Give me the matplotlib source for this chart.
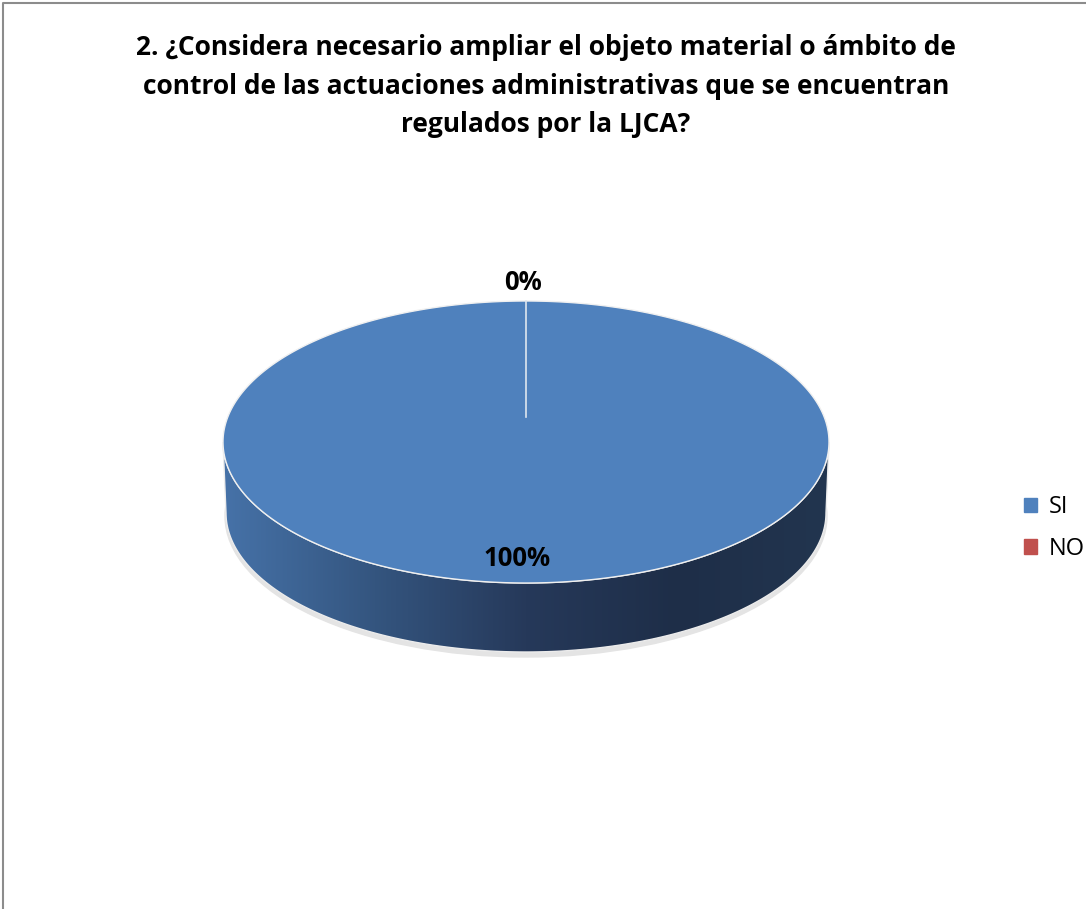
import numpy as np
import matplotlib.pyplot as plt
import matplotlib.patches as mpatches
from matplotlib.colors import LinearSegmentedColormap

# data
labels = ['SI', 'NO']
values = [100, 0]
colors = ['#4F81BD', '#C0504D']
title = ('2. ¿Considera necesario ampliar el objeto material o ámbito de\n'
         'control de las actuaciones administrativas que se encuentran\n'
         'regulados por la LJCA?')

plt.rcParams['font.family'] = ['Open Sans', 'DejaVu Sans']

W, H = 1086, 909
fig = plt.figure(figsize=(W / 100, H / 100), dpi=100)
ax = fig.add_axes([0, 0, 1, 1])
ax.set_xlim(0, W)
ax.set_ylim(H, 0)
ax.set_axis_off()

# frame of the chart area
ax.plot([3, 3, W], [H, 3, 3], color='#8c8c8c', lw=1.5)

ax.text(546, 86, title, ha='center', va='center', fontsize=19,
        fontweight='bold', linespacing=1.55)

# pie geometry (pixels)
cx, cy, rx, ry, depth = 526, 442, 303, 141, 71

t = np.linspace(0, np.pi, 200)
top_front = np.column_stack([cx - rx * np.cos(t), cy + ry * np.sin(t)])
bot_front = np.column_stack([cx - (rx - 3) * np.cos(t[::-1]), cy + depth + (ry - 2) * np.sin(t[::-1])])

# faint shadow under the pie
shadow = mpatches.Ellipse((cx, cy + depth + 3), 2 * rx - 4, 2 * ry, color='#e4e4e4', zorder=1)
ax.add_patch(shadow)

side = np.vstack([top_front, bot_front])
ax.add_patch(mpatches.Polygon(side, closed=True, facecolor='none', edgecolor='#ececec', lw=1.0, zorder=3))
grad = np.linspace(0, 1, 256)[None, :]
cmap = LinearSegmentedColormap.from_list('side', ['#4672a8', '#34557f', '#26395a', '#1e2e48', '#22354f'])
im = ax.imshow(grad, cmap=cmap, extent=[cx - rx, cx + rx, cy + depth + ry, cy - 5],
               aspect='auto', zorder=2)
im.set_clip_path(mpatches.Polygon(side, closed=True, transform=ax.transData))
ax.set_xlim(0, W)
ax.set_ylim(H, 0)

# top face slices, clockwise from 12 o'clock
fracs = np.array(values, dtype=float) / sum(values)
start = 90.0
for frac, col in zip(fracs, colors):
    if frac <= 0:
        continue
    a = np.radians(np.linspace(start, start - 360 * frac, 400))
    pts = np.column_stack([cx + rx * np.cos(a), cy - ry * np.sin(a)])
    if frac < 1:
        pts = np.vstack([[cx, cy], pts])
    ax.add_patch(mpatches.Polygon(pts, closed=True, facecolor=col, edgecolor='#f0f0f0', lw=1.0, zorder=4))
    start -= 360 * frac

# separator line at slice boundary
ax.plot([cx, cx], [cy - ry, cy - 25], color='#dfe6ef', lw=1.2, zorder=5)

# data labels
ax.text(cx - 3, 283, f'{values[1]}%', ha='center', va='center', fontsize=18.5, fontweight='bold', zorder=6)
ax.text(cx - 9, 559, f'{values[0]}%', ha='center', va='center', fontsize=18.5, fontweight='bold', zorder=6)

handles = [mpatches.Patch(color=c, label=l) for c, l in zip(colors, labels)]
ax.legend(handles=handles, loc='center left', bbox_to_anchor=(1003 / W, 1 - 528 / H),
          frameon=False, fontsize=17, handlelength=0.55, handleheight=0.55,
          handletextpad=0.5, labelspacing=0.75)

fig.savefig('out.png', dpi=100)
